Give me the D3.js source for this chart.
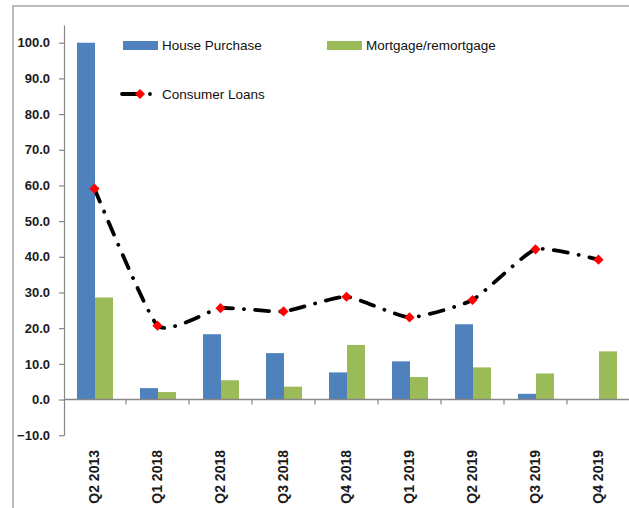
<!DOCTYPE html>
<html>
<head>
<meta charset="utf-8">
<script src="https://cdn.jsdelivr.net/npm/d3@7"></script>
<style>
  body { margin: 0; background: #fff; }
  svg { display: block; font-family: "Liberation Sans", Arial, sans-serif; }
</style>
</head>
<body>
<div id="chart"></div>
<script>
const categories = ["Q2 2013", "Q1 2018", "Q2 2018", "Q3 2018", "Q4 2018", "Q1 2019", "Q2 2019", "Q3 2019", "Q4 2019"];
const housePurchase = [100.0, 3.2, 18.3, 13.0, 7.6, 10.7, 21.1, 1.6, 0.0];
const mortgage = [28.6, 2.1, 5.4, 3.6, 15.3, 6.3, 9.0, 7.3, 13.5];
const consumerLoans = [59.1, 20.7, 25.6, 24.7, 28.8, 23.0, 27.9, 42.1, 39.2];
const yTicks = [-10, 0, 10, 20, 30, 40, 50, 60, 70, 80, 90, 100];

const width = 629, height = 508;
const blue = "#4F81BD", green = "#9BBB59", axisGrey = "#868686";

const svg = d3.select("#chart").append("svg")
  .attr("width", width)
  .attr("height", height);

// chart frame
svg.append("rect")
  .attr("x", 13).attr("y", 6)
  .attr("width", 640).attr("height", 520)
  .attr("fill", "none")
  .attr("stroke", "#a6a6a6")
  .attr("stroke-width", 1.5);

const x = d3.scaleBand().domain(categories).range([63, 630]);
const inner = d3.scaleBand().domain(["hp", "mr"]).range([14, 50]);
const y = d3.scaleLinear().domain([-10, 105]).range([435.2, 24.9]);

// y axis
const yAxis = svg.append("g")
  .attr("transform", "translate(64,0)")
  .call(d3.axisLeft(y).tickValues(yTicks).tickFormat(d3.format(".1f"))
    .tickSize(5).tickSizeOuter(0).tickPadding(9));
yAxis.select(".domain").attr("stroke", axisGrey).attr("stroke-width", 1.2);
yAxis.selectAll(".tick line").attr("stroke", axisGrey).attr("stroke-width", 1.2);
yAxis.selectAll(".tick text")
  .attr("font-size", 13).attr("font-weight", "bold").attr("fill", "#1a1a1a")
  .attr("font-family", "Liberation Sans, Arial, sans-serif");

// bars
const groups = svg.append("g").selectAll("g")
  .data(categories)
  .join("g")
  .attr("transform", d => `translate(${x(d)},0)`);

groups.append("rect")
  .attr("x", inner("hp"))
  .attr("width", inner.bandwidth())
  .attr("y", (d, i) => y(housePurchase[i]))
  .attr("height", (d, i) => y(0) - y(housePurchase[i]))
  .attr("fill", blue);

groups.append("rect")
  .attr("x", inner("mr"))
  .attr("width", inner.bandwidth())
  .attr("y", (d, i) => y(mortgage[i]))
  .attr("height", (d, i) => y(0) - y(mortgage[i]))
  .attr("fill", green);

// x axis at zero
const xAxis = svg.append("g")
  .attr("transform", `translate(0,${y(0)})`);
xAxis.append("line")
  .attr("x1", 64).attr("x2", 630)
  .attr("stroke", axisGrey).attr("stroke-width", 1.5);
xAxis.selectAll("line.tick")
  .data(categories.slice(1).concat(["end"]))
  .join("line")
  .attr("class", "tick")
  .attr("x1", (d, i) => x(categories[0]) + x.bandwidth() * (i + 1))
  .attr("x2", (d, i) => x(categories[0]) + x.bandwidth() * (i + 1))
  .attr("y1", 0).attr("y2", 5)
  .attr("stroke", axisGrey).attr("stroke-width", 1.2);

svg.append("g").selectAll("text")
  .data(categories)
  .join("text")
  .attr("transform", d => `translate(${x(d) + x.bandwidth() / 2},450) rotate(-90)`)
  .attr("text-anchor", "end")
  .attr("dy", "0.35em")
  .attr("font-size", 14)
  .attr("font-weight", "bold")
  .attr("fill", "#1a1a1a")
  .text(d => d);

// consumer loans line
const line = d3.line()
  .x((d, i) => x(categories[i]) + x.bandwidth() / 2)
  .y(d => y(d))
  .curve(d3.curveCardinal.tension(0.5));

svg.append("path")
  .datum(consumerLoans)
  .attr("d", line)
  .attr("fill", "none")
  .attr("stroke", "#000")
  .attr("stroke-width", 3.8)
  .attr("stroke-linecap", "round")
  .attr("stroke-dasharray", "14 11 0.1 11");

const diamond = d3.symbol().type(d3.symbolSquare).size(52);
svg.append("g").selectAll("path")
  .data(consumerLoans)
  .join("path")
  .attr("d", diamond)
  .attr("transform", (d, i) => `translate(${x(categories[i]) + x.bandwidth() / 2},${y(d)}) rotate(45)`)
  .attr("fill", "#ff0000");

// legend
const legend = svg.append("g")
  .attr("font-size", 13.5)
  .attr("fill", "#111");

legend.append("rect").attr("x", 123).attr("y", 41).attr("width", 35).attr("height", 9).attr("fill", blue);
legend.append("text").attr("x", 162).attr("y", 50).text("House Purchase");

legend.append("rect").attr("x", 327).attr("y", 41).attr("width", 35).attr("height", 9).attr("fill", green);
legend.append("text").attr("x", 366).attr("y", 50).text("Mortgage/remortgage");

legend.append("line")
  .attr("x1", 122).attr("x2", 138).attr("y1", 94).attr("y2", 94)
  .attr("stroke", "#000").attr("stroke-width", 3.8).attr("stroke-linecap", "round");
legend.append("circle").attr("cx", 150).attr("cy", 94).attr("r", 1.9).attr("fill", "#000");
legend.append("path")
  .attr("d", diamond)
  .attr("transform", "translate(140,94) rotate(45)")
  .attr("fill", "#ff0000");
legend.append("text").attr("x", 162).attr("y", 99).text("Consumer Loans");
</script>
</body>
</html>
